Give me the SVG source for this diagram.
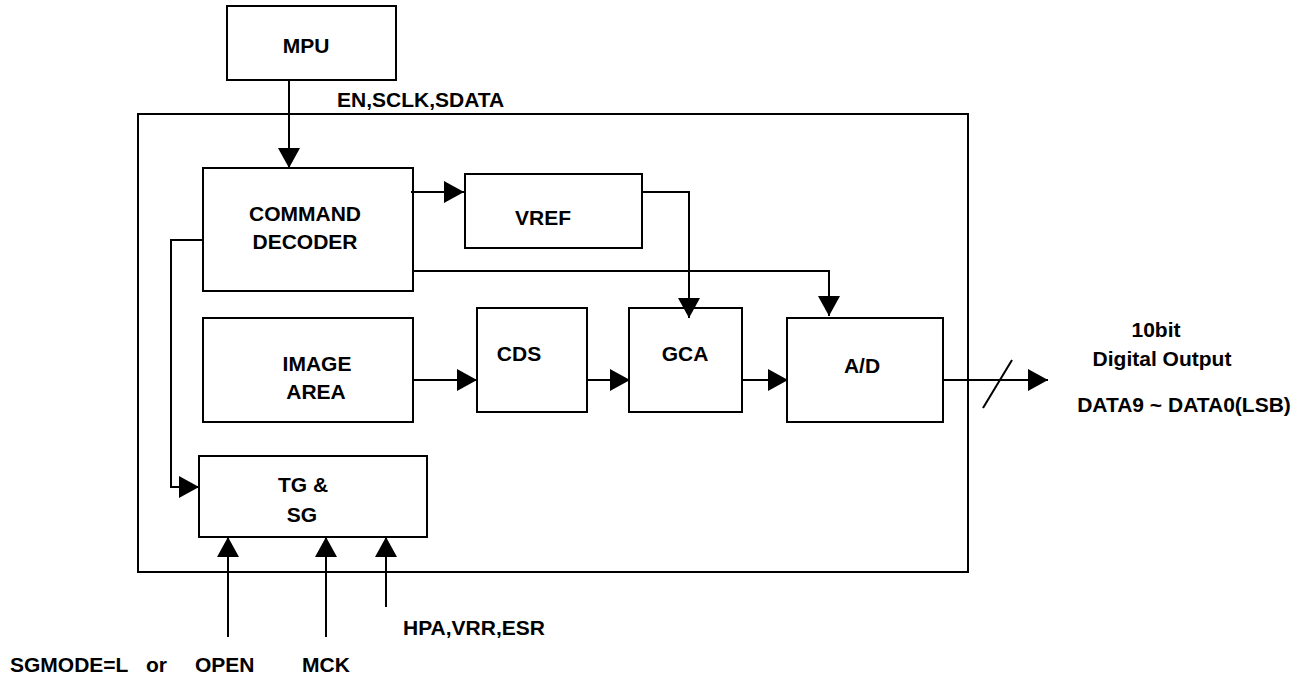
<svg xmlns="http://www.w3.org/2000/svg" width="1311" height="679" viewBox="0 0 1311 679">
<style>
.box{fill:none;stroke:#000;stroke-width:2}
.ln{fill:none;stroke:#000;stroke-width:2}
text{font-family:"Liberation Sans",Arial,sans-serif;font-weight:bold;font-size:21px;fill:#000}
.c{text-anchor:middle}
</style>
<defs>
<marker id="ah" viewBox="0 0 20 22" refX="20" refY="11" markerWidth="20" markerHeight="22" markerUnits="userSpaceOnUse" orient="auto">
<path d="M0,0 L20,11 L0,22 z" fill="#000"/>
</marker>
</defs>
<rect width="1311" height="679" fill="#fff"/>
<g id="chip"><rect class="box" x="138" y="114" width="830" height="458"/></g>
<g id="mpu"><rect class="box" x="227" y="6" width="169" height="74"/><text class="c" x="306" y="53">MPU</text></g>
<g id="decoder"><rect class="box" x="203" y="168" width="210" height="123"/><text class="c" x="305" y="221">COMMAND</text><text class="c" x="305" y="249">DECODER</text></g>
<g id="vref"><rect class="box" x="465" y="174" width="177" height="74"/><text class="c" x="543" y="225">VREF</text></g>
<g id="image"><rect class="box" x="203" y="318" width="210" height="104"/><text class="c" x="317" y="371">IMAGE</text><text class="c" x="316" y="399">AREA</text></g>
<g id="cds"><rect class="box" x="477" y="308" width="110" height="104"/><text class="c" x="519" y="361">CDS</text></g>
<g id="gca"><rect class="box" x="629" y="308" width="113" height="104"/><text class="c" x="685" y="361">GCA</text></g>
<g id="ad"><rect class="box" x="787" y="318" width="156" height="104"/><text class="c" x="862" y="373">A/D</text></g>
<g id="tgsg"><rect class="box" x="199" y="456" width="228" height="81"/><text class="c" x="303" y="492">TG &amp;</text><text class="c" x="302" y="522">SG</text></g>
<g id="connectors">
<path class="ln" d="M289,80 V168" marker-end="url(#ah)"/>
<path class="ln" d="M411,192 H464" marker-end="url(#ah)"/>
<path class="ln" d="M641,192 H689 V318" marker-end="url(#ah)"/>
<path class="ln" d="M413,271 H829 V316" marker-end="url(#ah)"/>
<path class="ln" d="M413,380 H477" marker-end="url(#ah)"/>
<path class="ln" d="M587,380 H630" marker-end="url(#ah)"/>
<path class="ln" d="M742,380 H788" marker-end="url(#ah)"/>
<path class="ln" d="M943,380 H1048" marker-end="url(#ah)"/>
<path class="ln" d="M983,408 L1012,360"/>
<path class="ln" d="M203,240 H171 V487 H199" marker-end="url(#ah)"/>
<path class="ln" d="M228,637 V537" marker-end="url(#ah)"/>
<path class="ln" d="M326,637 V537" marker-end="url(#ah)"/>
<path class="ln" d="M386,607 V537" marker-end="url(#ah)"/>
</g>
<g id="labels">
<text x="337" y="107">EN,SCLK,SDATA</text>
<text class="c" x="1156" y="337">10bit</text>
<text class="c" x="1162" y="366">Digital Output</text>
<text class="c" x="1184" y="412">DATA9 ~ DATA0(LSB)</text>
<text x="403" y="635">HPA,VRR,ESR</text>
<text x="10" y="672">SGMODE=L</text>
<text x="146" y="672">or</text>
<text x="195" y="672">OPEN</text>
<text x="302" y="672">MCK</text>
</g>
</svg>
